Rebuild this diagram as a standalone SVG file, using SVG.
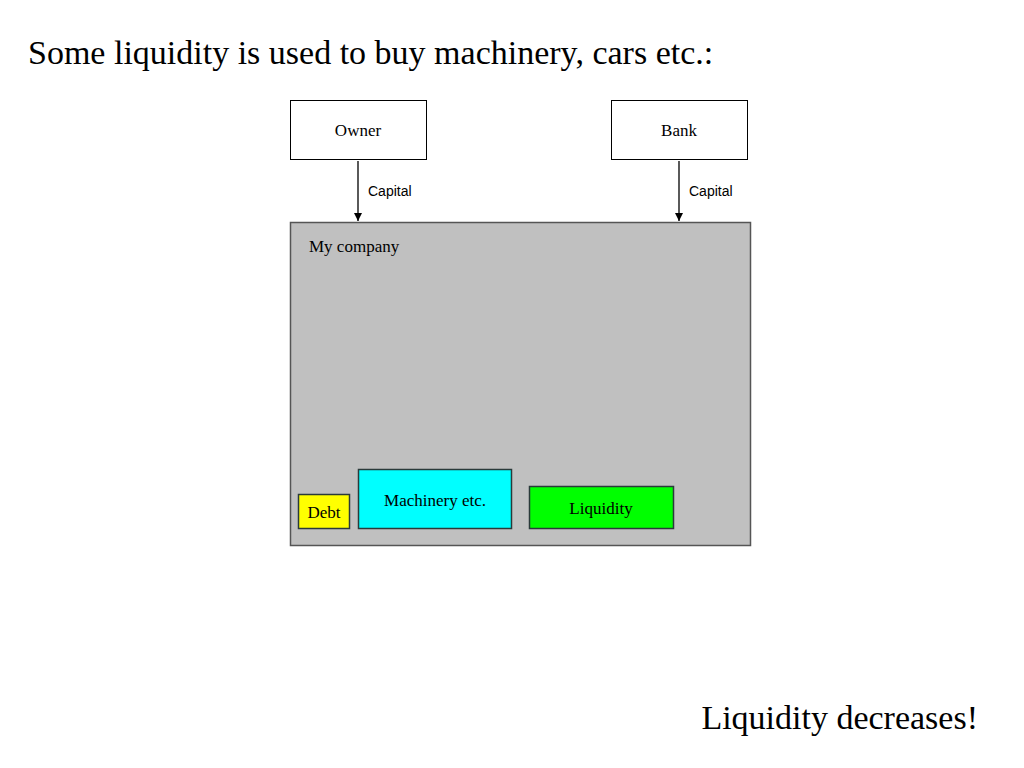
<svg xmlns="http://www.w3.org/2000/svg" width="1024" height="768" viewBox="0 0 1024 768">
<defs>
<style>
.t{font-family:"Liberation Serif","Times New Roman",serif;fill:#000}
.s{font-family:"Liberation Sans",Arial,sans-serif;fill:#000;font-size:14px}
.box{stroke:#000;stroke-width:1}
.ibox{stroke:#2a3a3a;stroke-width:1.5}
.conn{stroke:#000;stroke-width:1.3;fill:none}
</style>
<marker id="arr" markerWidth="10" markerHeight="10" refX="8" refY="4" orient="auto" markerUnits="userSpaceOnUse">
<path d="M0,0 L8,4 L0,8 Z" fill="#000"/>
</marker>
</defs>
<rect width="1024" height="768" fill="#fff"/>
<text class="t" x="28" y="64" font-size="34">Some liquidity is used to buy machinery, cars etc.:</text>
<g id="owner"><rect class="box" x="290.5" y="100.5" width="136" height="59" fill="#fff"/><text class="t" x="358" y="136" font-size="17" text-anchor="middle">Owner</text></g>
<g id="bank"><rect class="box" x="611.5" y="100.5" width="136" height="59" fill="#fff"/><text class="t" x="679" y="136" font-size="17" text-anchor="middle">Bank</text></g>
<g id="company"><rect x="290.5" y="222.5" width="460" height="323" fill="#c0c0c0" stroke="#555" stroke-width="1.5"/><text class="t" x="309" y="252" font-size="17">My company</text></g>
<g id="debt"><rect class="ibox" x="298.5" y="494.5" width="51" height="34" fill="#ffff00"/><text class="t" x="324" y="518" font-size="17" text-anchor="middle">Debt</text></g>
<g id="machinery"><rect class="ibox" x="358.5" y="469.5" width="153" height="59" fill="#00ffff"/><text class="t" x="435" y="506" font-size="17" text-anchor="middle">Machinery etc.</text></g>
<g id="liquidity"><rect class="ibox" x="529.5" y="486.5" width="144" height="42" fill="#00ff00"/><text class="t" x="601" y="514" font-size="17" text-anchor="middle">Liquidity</text></g>
<g id="connectors">
<line class="conn" x1="358" y1="161" x2="358" y2="221" marker-end="url(#arr)"/>
<text class="s" x="368" y="196">Capital</text>
<line class="conn" x1="679" y1="161" x2="679" y2="221" marker-end="url(#arr)"/>
<text class="s" x="689" y="196">Capital</text>
</g>
<text class="t" x="978" y="729" font-size="34" text-anchor="end">Liquidity decreases!</text>
</svg>
